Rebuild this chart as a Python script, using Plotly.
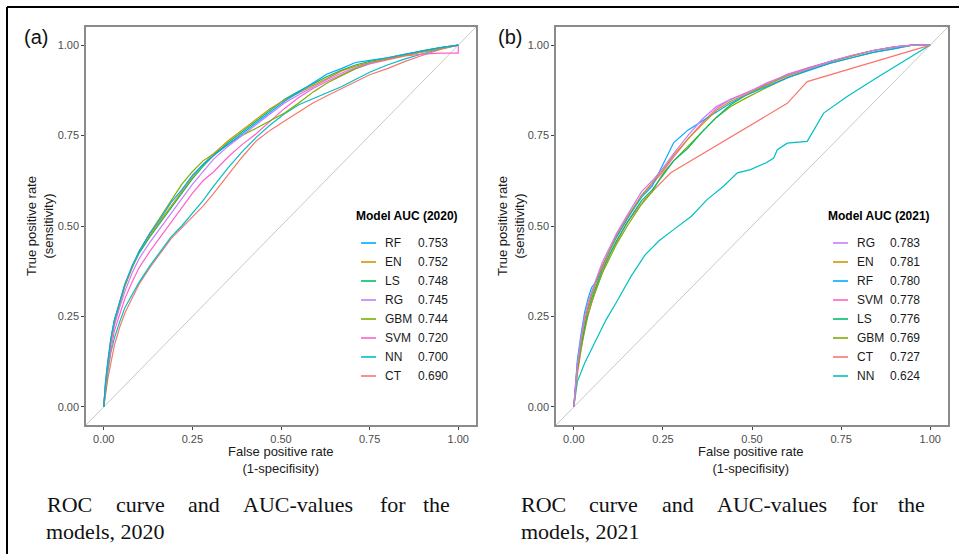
import plotly.graph_objects as go

W, H = 959, 554

# ---------------- data ----------------
models_2020 = ["RF", "EN", "LS", "RG", "GBM", "SVM", "NN", "CT"]
auc_2020 = ["0.753", "0.752", "0.748", "0.745", "0.744", "0.720", "0.700", "0.690"]
models_2021 = ["RG", "EN", "RF", "SVM", "LS", "GBM", "CT", "NN"]
auc_2021 = ["0.783", "0.781", "0.780", "0.778", "0.776", "0.769", "0.727", "0.624"]

colors = {"CT": "#F8766D", "EN": "#CD9600", "GBM": "#7CAE00", "LS": "#00BE67",
          "NN": "#00BFC4", "RF": "#00A9FF", "RG": "#C77CFF", "SVM": "#FF61CC"}

fpr_a = [0, 0.005, 0.012, 0.02, 0.03, 0.045, 0.06, 0.08, 0.10, 0.13, 0.16, 0.19, 0.22, 0.25, 0.28, 0.31,
         0.35, 0.39, 0.43, 0.47, 0.51, 0.55, 0.59, 0.63, 0.67, 0.71, 0.75, 0.80, 0.85, 0.90, 0.95, 1]
tpr_2020 = {
    "RF":  [0, 0.07, 0.13, 0.19, 0.24, 0.29, 0.34, 0.39, 0.43, 0.48, 0.52, 0.565, 0.60, 0.64, 0.67, 0.695,
            0.725, 0.755, 0.785, 0.815, 0.845, 0.87, 0.895, 0.92, 0.935, 0.952, 0.958, 0.965, 0.975, 0.985, 0.993, 1],
    "EN":  [0, 0.06, 0.12, 0.18, 0.235, 0.285, 0.335, 0.385, 0.43, 0.475, 0.515, 0.555, 0.595, 0.635, 0.67, 0.70,
            0.735, 0.765, 0.795, 0.825, 0.848, 0.868, 0.89, 0.91, 0.928, 0.942, 0.952, 0.962, 0.972, 0.982, 0.992, 1],
    "LS":  [0, 0.065, 0.125, 0.185, 0.24, 0.29, 0.34, 0.385, 0.425, 0.47, 0.51, 0.55, 0.59, 0.63, 0.665, 0.695,
            0.73, 0.76, 0.79, 0.82, 0.85, 0.872, 0.893, 0.913, 0.93, 0.945, 0.955, 0.965, 0.975, 0.985, 0.993, 1],
    "RG":  [0, 0.06, 0.12, 0.175, 0.225, 0.275, 0.32, 0.37, 0.41, 0.455, 0.495, 0.535, 0.575, 0.615, 0.65, 0.685,
            0.72, 0.75, 0.78, 0.81, 0.84, 0.863, 0.885, 0.905, 0.922, 0.938, 0.95, 0.962, 0.972, 0.982, 0.99, 1],
    "GBM": [0, 0.06, 0.12, 0.18, 0.235, 0.285, 0.335, 0.385, 0.43, 0.48, 0.525, 0.57, 0.615, 0.65, 0.68, 0.70,
            0.725, 0.75, 0.77, 0.79, 0.812, 0.84, 0.87, 0.895, 0.915, 0.935, 0.95, 0.962, 0.975, 0.985, 0.993, 1],
    "SVM": [0, 0.06, 0.11, 0.16, 0.21, 0.255, 0.30, 0.345, 0.385, 0.43, 0.47, 0.51, 0.55, 0.59, 0.625, 0.65,
            0.69, 0.725, 0.755, 0.79, 0.825, 0.855, 0.88, 0.9, 0.918, 0.935, 0.948, 0.96, 0.97, 0.975, 0.978, 0.978],
    "NN":  [0, 0.05, 0.10, 0.15, 0.19, 0.235, 0.275, 0.31, 0.345, 0.39, 0.43, 0.47, 0.50, 0.535, 0.57, 0.61,
            0.66, 0.705, 0.745, 0.78, 0.81, 0.835, 0.852, 0.87, 0.885, 0.905, 0.925, 0.945, 0.962, 0.976, 0.99, 1],
    "CT":  [0, 0.04, 0.08, 0.12, 0.17, 0.22, 0.26, 0.30, 0.34, 0.385, 0.425, 0.465, 0.495, 0.525, 0.555, 0.59,
            0.64, 0.69, 0.735, 0.765, 0.79, 0.815, 0.84, 0.86, 0.88, 0.9, 0.918, 0.935, 0.955, 0.972, 0.988, 1],
}
svm_2020_tail_fpr = [1.0]
svm_2020_tail_tpr = [1.0]

fpr_b = [0, 0.005, 0.01, 0.02, 0.03, 0.04, 0.05, 0.065, 0.08, 0.10, 0.12, 0.15, 0.19, 0.22, 0.25, 0.28,
         0.32, 0.36, 0.40, 0.44, 0.48, 0.54, 0.60, 0.66, 0.72, 0.78, 0.84, 0.90, 0.95, 1]
tpr_2021 = {
    "RG":  [0, 0.07, 0.12, 0.19, 0.25, 0.29, 0.32, 0.36, 0.40, 0.44, 0.48, 0.53, 0.595, 0.625, 0.66, 0.70,
            0.75, 0.795, 0.83, 0.85, 0.865, 0.895, 0.918, 0.935, 0.955, 0.972, 0.985, 0.995, 1, 1],
    "EN":  [0, 0.06, 0.11, 0.18, 0.24, 0.28, 0.31, 0.355, 0.39, 0.435, 0.475, 0.525, 0.585, 0.62, 0.655, 0.695,
            0.74, 0.78, 0.82, 0.845, 0.862, 0.89, 0.915, 0.935, 0.955, 0.97, 0.985, 0.995, 1, 1],
    "RF":  [0, 0.07, 0.13, 0.20, 0.26, 0.30, 0.33, 0.35, 0.39, 0.43, 0.47, 0.52, 0.58, 0.61, 0.67, 0.73,
            0.765, 0.79, 0.815, 0.84, 0.86, 0.885, 0.91, 0.93, 0.95, 0.965, 0.98, 0.99, 1, 1],
    "SVM": [0, 0.06, 0.12, 0.18, 0.235, 0.275, 0.31, 0.35, 0.385, 0.43, 0.47, 0.52, 0.585, 0.615, 0.65, 0.69,
            0.74, 0.785, 0.825, 0.85, 0.866, 0.892, 0.92, 0.938, 0.955, 0.97, 0.985, 0.995, 1, 1],
    "LS":  [0, 0.06, 0.11, 0.17, 0.22, 0.27, 0.30, 0.34, 0.38, 0.42, 0.46, 0.51, 0.57, 0.60, 0.64, 0.68,
            0.715, 0.76, 0.80, 0.835, 0.86, 0.89, 0.918, 0.938, 0.955, 0.97, 0.985, 0.995, 1, 1],
    "GBM": [0, 0.05, 0.10, 0.16, 0.21, 0.255, 0.29, 0.33, 0.37, 0.41, 0.45, 0.50, 0.56, 0.595, 0.645, 0.68,
            0.72, 0.76, 0.80, 0.83, 0.852, 0.882, 0.91, 0.932, 0.95, 0.965, 0.98, 0.99, 1, 1],
}
ct_2021_fpr = [0, 0.01, 0.03, 0.06, 0.10, 0.15, 0.20, 0.244, 0.272, 0.599, 0.655, 1]
ct_2021_tpr = [0, 0.09, 0.22, 0.32, 0.42, 0.51, 0.575, 0.62, 0.647, 0.839, 0.899, 1]
nn_2021_fpr = [0, 0.01, 0.03, 0.06, 0.09, 0.12, 0.16, 0.20, 0.24, 0.28, 0.33, 0.374, 0.42, 0.459, 0.496,
               0.54, 0.561, 0.571, 0.599, 0.655, 0.701, 0.767, 0.85, 1]
nn_2021_tpr = [0, 0.07, 0.12, 0.18, 0.24, 0.29, 0.36, 0.42, 0.46, 0.49, 0.527, 0.573, 0.61, 0.647, 0.656,
               0.675, 0.688, 0.711, 0.729, 0.734, 0.812, 0.858, 0.91, 1]

diag = [-0.05, 1.05]
ticks = [0, 0.25, 0.5, 0.75, 1.0]
tick_text = ["0.00", "0.25", "0.50", "0.75", "1.00"]

# ---------------- figure ----------------
fig = go.Figure()

def px_x(p):
    return p / W

def px_y(p):
    return 1 - p / H

line_w = 1.2

# panel a
fig.add_trace(go.Scatter(x=diag, y=diag, mode="lines", line=dict(color="#c8c8c8", width=1),
                         xaxis="x", yaxis="y", showlegend=False, hoverinfo="skip"))
for m in reversed(models_2020):
    xs = list(fpr_a)
    ys = list(tpr_2020[m])
    if m == "SVM":
        xs += svm_2020_tail_fpr
        ys += svm_2020_tail_tpr
    fig.add_trace(go.Scatter(x=xs, y=ys, mode="lines", line=dict(color=colors[m], width=line_w),
                             xaxis="x", yaxis="y", name=m, showlegend=False))

# panel b
fig.add_trace(go.Scatter(x=diag, y=diag, mode="lines", line=dict(color="#c8c8c8", width=1),
                         xaxis="x2", yaxis="y2", showlegend=False, hoverinfo="skip"))
for m in reversed(models_2021):
    if m == "CT":
        xs, ys = ct_2021_fpr, ct_2021_tpr
    elif m == "NN":
        xs, ys = nn_2021_fpr, nn_2021_tpr
    else:
        xs, ys = fpr_b, tpr_2021[m]
    fig.add_trace(go.Scatter(x=xs, y=ys, mode="lines", line=dict(color=colors[m], width=line_w),
                             xaxis="x2", yaxis="y2", name=m, showlegend=False))

axis_common = dict(range=[-0.05, 1.05], tickvals=ticks, ticktext=tick_text, showgrid=False,
                   zeroline=False, showline=True, mirror=True, linecolor="#8a8a8a", linewidth=1.5,
                   ticks="outside", ticklen=3, tickwidth=1, tickcolor="#444444",
                   tickfont=dict(family="Liberation Sans, Arial, sans-serif", size=11, color="#4d4d4d"))

ydom = [px_y(425), px_y(27)]
fig.update_layout(
    width=W, height=H, margin=dict(l=0, r=0, t=0, b=0),
    paper_bgcolor="white", plot_bgcolor="white",
    xaxis=dict(domain=[px_x(86), px_x(476)], anchor="y", **axis_common),
    yaxis=dict(domain=ydom, anchor="x", **axis_common),
    xaxis2=dict(domain=[px_x(556), px_x(948)], anchor="y2", **axis_common),
    yaxis2=dict(domain=ydom, anchor="x2", **axis_common),
)

sans = "Liberation Sans, Arial, sans-serif"
serif = "Liberation Serif, Times New Roman, serif"
ann = []
shapes = []

# white strip at the right page edge, then outer frame (top and left)
shapes.append(dict(type="rect", xref="paper", yref="paper", x0=px_x(951), x1=1, y0=0, y1=1,
                   fillcolor="white", line=dict(width=0), layer="above"))
shapes.append(dict(type="line", xref="paper", yref="paper", x0=px_x(7), x1=1, y0=px_y(7), y1=px_y(7),
                   line=dict(color="black", width=2)))
shapes.append(dict(type="line", xref="paper", yref="paper", x0=px_x(7), x1=px_x(7), y0=0, y1=px_y(7),
                   line=dict(color="black", width=2)))

def axis_titles(cx, ytx):
    ann.append(dict(text="False positive rate<br>(1-specifisity)", x=px_x(cx), y=px_y(460), xref="paper",
                    yref="paper", showarrow=False, font=dict(family=sans, size=13, color="#1a1a1a"),
                    xanchor="center", yanchor="middle"))
    ann.append(dict(text="True positive rate<br>(sensitivity)", x=px_x(ytx), y=px_y(226), xref="paper",
                    yref="paper", showarrow=False, textangle=-90, font=dict(family=sans, size=13, color="#1a1a1a"),
                    xanchor="center", yanchor="middle"))

axis_titles(281, 40)
axis_titles(751, 511)

ann.append(dict(text="(a)", x=px_x(36), y=px_y(37), xref="paper", yref="paper", showarrow=False,
                font=dict(family=sans, size=20, color="#111111"), xanchor="center", yanchor="middle"))
ann.append(dict(text="(b)", x=px_x(510), y=px_y(37), xref="paper", yref="paper", showarrow=False,
                font=dict(family=sans, size=20, color="#111111"), xanchor="center", yanchor="middle"))

# legends
def legend(title, models, aucs, title_x, line_x0, line_x1, name_x, val_x, row0, dy):
    ann.append(dict(text="<b>" + title + "</b>", x=px_x(title_x), y=px_y(216), xref="paper", yref="paper",
                    showarrow=False, font=dict(family=sans, size=12, color="black"),
                    xanchor="center", yanchor="middle"))
    for i, (m, a) in enumerate(zip(models, aucs)):
        py = row0 + i * dy
        shapes.append(dict(type="line", xref="paper", yref="paper", x0=px_x(line_x0), x1=px_x(line_x1),
                           y0=px_y(py), y1=px_y(py), line=dict(color=colors[m], width=1.6)))
        ann.append(dict(text=m, x=px_x(name_x), y=px_y(py), xref="paper", yref="paper", showarrow=False,
                        font=dict(family=sans, size=12, color="#1a1a1a"), xanchor="left", yanchor="middle"))
        ann.append(dict(text=a, x=px_x(val_x), y=px_y(py), xref="paper", yref="paper", showarrow=False,
                        font=dict(family=sans, size=12, color="#1a1a1a"), xanchor="left", yanchor="middle"))

legend("Model AUC (2020)", models_2020, auc_2020, 407, 361, 376, 383, 416, 243, 19)
legend("Model AUC (2021)", models_2021, auc_2021, 879, 833, 848, 855, 888, 243, 19)

# captions (justified first line)
cap_words = ["ROC", "curve", "and", "AUC-values", "for", "the"]
cap_a_x = [45, 114, 186, 241, 378, 421]
cap_b_x = [519, 587, 660, 715, 850, 896]
for w, xa, xb in zip(cap_words, cap_a_x, cap_b_x):
    for xx in (xa, xb):
        ann.append(dict(text=w, x=px_x(xx), y=px_y(504), xref="paper", yref="paper", showarrow=False,
                        font=dict(family=serif, size=22, color="#111111"), xanchor="left", yanchor="middle"))
ann.append(dict(text="models, 2020", x=px_x(44), y=px_y(531), xref="paper", yref="paper", showarrow=False,
                font=dict(family=serif, size=22, color="#111111"), xanchor="left", yanchor="middle"))
ann.append(dict(text="models, 2021", x=px_x(519), y=px_y(531), xref="paper", yref="paper", showarrow=False,
                font=dict(family=serif, size=22, color="#111111"), xanchor="left", yanchor="middle"))

fig.update_layout(annotations=ann, shapes=shapes)
fig.write_html("out.html", config={"displayModeBar": False},
               post_script="document.body.style.margin='0';document.body.style.overflow='hidden';")
